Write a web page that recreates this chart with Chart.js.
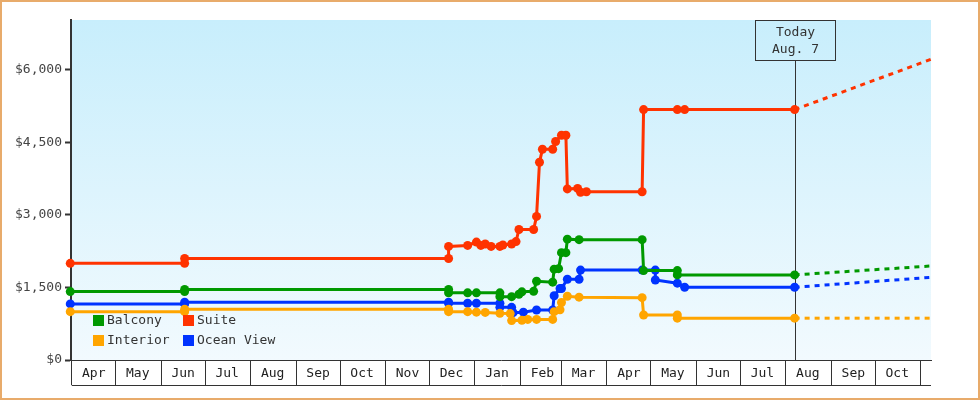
<!DOCTYPE html>
<html>
<head>
<meta charset="utf-8">
<script src="https://cdn.jsdelivr.net/npm/chart.js@4.4.1/dist/chart.umd.min.js"></script>
<style>
  html, body { margin: 0; padding: 0; background: #fff; }
  #wrap { width: 980px; height: 400px; box-sizing: border-box; border: 2px solid #e8ab6b; }
  canvas { display: block; }
</style>
</head>
<body>
<div id="wrap"><canvas id="chart" width="976" height="396"></canvas></div>
<script>
const FONT = '"DejaVu Sans Mono", monospace';

// x axis: days since START, one box per month
const START = '2017-04-01';
const TODAY = '2018-08-07';
const END = '2018-11-08';
const MONTH_STARTS = ['2017-04-01', '2017-05-01', '2017-06-01', '2017-07-01', '2017-08-01', '2017-09-01',
  '2017-10-01', '2017-11-01', '2017-12-01', '2018-01-01', '2018-02-01', '2018-03-01', '2018-04-01',
  '2018-05-01', '2018-06-01', '2018-07-01', '2018-08-01', '2018-09-01', '2018-10-01', '2018-11-01'];
const MONTH_LABELS = ['Apr', 'May', 'Jun', 'Jul', 'Aug', 'Sep', 'Oct', 'Nov', 'Dec', 'Jan', 'Feb', 'Mar',
  'Apr', 'May', 'Jun', 'Jul', 'Aug', 'Sep', 'Oct', ''];
const Y_TICKS = [0, 1500, 3000, 4500, 6000];

const SERIES_NAMES = ['Balcony', 'Suite', 'Interior', 'Ocean View'];
const SERIES_COLORS = ['#009900', '#ff3300', '#ffa500', '#0033ff'];

const balconyDates = ['2017-03-31', '2017-06-17', '2017-06-17', '2017-12-14', '2017-12-14', '2017-12-27',
  '2018-01-02', '2018-01-18', '2018-01-18', '2018-01-26', '2018-01-31', '2018-02-02', '2018-02-10',
  '2018-02-12', '2018-02-23', '2018-02-24', '2018-02-27', '2018-03-01', '2018-03-04', '2018-03-05',
  '2018-03-13', '2018-04-25', '2018-04-26', '2018-05-19', '2018-05-19', '2018-08-07'];
const balconyPrices = [1415, 1415, 1460, 1460, 1390, 1390,
  1390, 1390, 1310, 1310, 1360, 1410, 1420,
  1630, 1610, 1880, 1890, 2220, 2220, 2500,
  2490, 2490, 1850, 1850, 1760, 1760];

const suiteDates = ['2017-03-31', '2017-06-17', '2017-06-17', '2017-12-14', '2017-12-14', '2017-12-27',
  '2018-01-02', '2018-01-05', '2018-01-08', '2018-01-12', '2018-01-18', '2018-01-20', '2018-01-26',
  '2018-01-29', '2018-01-31', '2018-02-10', '2018-02-12', '2018-02-14', '2018-02-16', '2018-02-23',
  '2018-02-25', '2018-03-01', '2018-03-04', '2018-03-05', '2018-03-12', '2018-03-14', '2018-03-18',
  '2018-04-25', '2018-04-26', '2018-05-19', '2018-05-24', '2018-08-07'];
const suitePrices = [2000, 2000, 2100, 2100, 2350, 2370,
  2440, 2370, 2400, 2350, 2350, 2380, 2400,
  2450, 2700, 2700, 2970, 4090, 4360, 4360,
  4520, 4650, 4650, 3540, 3550, 3470, 3480,
  3480, 5180, 5180, 5180, 5180];

const interiorDates = ['2017-03-31', '2017-06-17', '2017-06-17', '2017-12-14', '2017-12-14', '2017-12-27',
  '2018-01-02', '2018-01-08', '2018-01-18', '2018-01-25', '2018-01-26', '2018-02-02', '2018-02-06',
  '2018-02-12', '2018-02-23', '2018-02-24', '2018-02-28', '2018-03-01', '2018-03-05', '2018-03-13',
  '2018-04-25', '2018-04-26', '2018-05-19', '2018-05-19', '2018-08-07'];
const interiorPrices = [1000, 1000, 1050, 1050, 1000, 1000,
  990, 985, 965, 960, 815, 820, 840,
  840, 840, 1000, 1040, 1190, 1320, 1300,
  1290, 930, 930, 865, 865];

const oceanDates = ['2017-03-31', '2017-06-17', '2017-06-17', '2017-12-14', '2017-12-14', '2017-12-27',
  '2018-01-02', '2018-01-18', '2018-01-18', '2018-01-26', '2018-01-27', '2018-02-03', '2018-02-12',
  '2018-02-23', '2018-02-24', '2018-02-28', '2018-03-01', '2018-03-05', '2018-03-13', '2018-03-14',
  '2018-04-25', '2018-05-04', '2018-05-04', '2018-05-19', '2018-05-24', '2018-08-07'];
const oceanPrices = [1160, 1160, 1195, 1195, 1175, 1175,
  1175, 1175, 1090, 1090, 980, 990, 1035,
  1035, 1330, 1480, 1480, 1670, 1670, 1860,
  1860, 1860, 1655, 1590, 1505, 1505];

// projection from today to the end of the axis
const balconyForecast = [1760, 1945];
const suiteForecast = [5180, 6220];
const interiorForecast = [865, 865];
const oceanForecast = [1505, 1710];

function day(s) {
  const [y, m, d] = s.split('-').map(Number);
  const [y0, m0, d0] = START.split('-').map(Number);
  return (Date.UTC(y, m - 1, d) - Date.UTC(y0, m0 - 1, d0)) / 864e5;
}
function pts(dates, vals) {
  return dates.map((d, i) => ({ x: day(d), y: vals[i] }));
}

function solid(i, dates, vals) {
  const c = SERIES_COLORS[i];
  return {
    label: SERIES_NAMES[i], data: pts(dates, vals),
    borderColor: c, backgroundColor: c, borderWidth: 3,
    pointRadius: 4.5, pointBorderWidth: 0, pointBackgroundColor: c,
    tension: 0, clip: false
  };
}
function dashed(i, vals) {
  const c = SERIES_COLORS[i];
  return {
    label: SERIES_NAMES[i] + ' forecast',
    data: pts([TODAY, END], vals),
    borderColor: c, borderWidth: 3, borderDash: [5, 5],
    pointRadius: 0, tension: 0, clip: false
  };
}

// light blue gradient behind the plot
const plotBg = {
  id: 'plotBg',
  beforeDraw(chart) {
    const { ctx, chartArea: a } = chart;
    const g = ctx.createLinearGradient(0, a.top, 0, a.bottom);
    g.addColorStop(0, '#c8eefc');
    g.addColorStop(1, '#f2fafe');
    ctx.save();
    ctx.fillStyle = g;
    ctx.fillRect(a.left, a.top, a.right - a.left, a.bottom - a.top);
    ctx.restore();
  }
};

// closes the month boxes at the bottom
const monthBoxes = {
  id: 'monthBoxes',
  afterDraw(chart) {
    const { ctx, chartArea: a } = chart;
    const y = Math.round(a.bottom + 25) + 0.5;
    ctx.save();
    ctx.strokeStyle = '#333';
    ctx.lineWidth = 1;
    ctx.beginPath();
    ctx.moveTo(chart.scales.x.getPixelForValue(0), y);
    ctx.lineTo(a.right, y);
    ctx.stroke();
    ctx.restore();
  }
};

// "Today" marker
const todayLine = {
  id: 'todayLine',
  beforeDatasetsDraw(chart) {
    const { ctx, chartArea: a } = chart;
    const x = Math.round(chart.scales.x.getPixelForValue(day(TODAY))) + 0.5;
    const w = 80, h = 40, top = a.top + 0.5;
    ctx.save();
    ctx.strokeStyle = '#333';
    ctx.lineWidth = 1;
    ctx.strokeRect(x - w / 2, top, w, h);
    ctx.beginPath();
    ctx.moveTo(x, top + h);
    ctx.lineTo(x, a.bottom);
    ctx.stroke();
    ctx.fillStyle = '#333';
    ctx.font = '13px ' + FONT;
    ctx.textAlign = 'center';
    ctx.textBaseline = 'middle';
    ctx.fillText('Today', x, a.top + 12.5);
    ctx.fillText('Aug. 7', x, a.top + 30);
    ctx.restore();
  }
};

// legend in the lower left of the plot, two columns
const legendBox = {
  id: 'legendBox',
  afterDatasetsDraw(chart) {
    const { ctx, chartArea: a } = chart;
    ctx.save();
    ctx.font = '13px ' + FONT;
    ctx.textAlign = 'left';
    ctx.textBaseline = 'middle';
    SERIES_NAMES.forEach((name, i) => {
      const x = a.left + 22 + (i % 2) * 90;
      const y = a.bottom - 45 + Math.floor(i / 2) * 20;
      ctx.fillStyle = SERIES_COLORS[i];
      ctx.fillRect(x, y, 11, 11);
      ctx.fillStyle = '#333';
      ctx.fillText(name, x + 14, y + 6);
    });
    ctx.restore();
  }
};

new Chart(document.getElementById('chart'), {
  type: 'line',
  data: {
    datasets: [
      solid(0, balconyDates, balconyPrices),
      solid(1, suiteDates, suitePrices),
      solid(2, interiorDates, interiorPrices),
      solid(3, oceanDates, oceanPrices),
      dashed(0, balconyForecast),
      dashed(1, suiteForecast),
      dashed(2, interiorForecast),
      dashed(3, oceanForecast)
    ]
  },
  options: {
    responsive: false,
    devicePixelRatio: 1,
    animation: false,
    events: [],
    layout: { padding: { left: 0, right: 47, top: 18, bottom: 0 } },
    plugins: { legend: { display: false }, tooltip: { enabled: false } },
    scales: {
      x: {
        type: 'linear',
        min: -0.5,
        max: day(END),
        afterBuildTicks: s => { s.ticks = MONTH_STARTS.map(d => ({ value: day(d) })); },
        afterFit: s => { s.height = 38; },
        border: { display: true, color: '#333', width: 1 },
        grid: { drawOnChartArea: false, drawTicks: true, tickLength: 25, color: '#333', lineWidth: 1 },
        ticks: {
          autoSkip: false, maxRotation: 0, minRotation: 0,
          padding: -19, labelOffset: 22,
          color: '#222', font: { family: FONT, size: 13 },
          callback: (v, i) => MONTH_LABELS[i]
        }
      },
      y: {
        min: 0,
        max: 7034,
        afterBuildTicks: s => { s.ticks = Y_TICKS.map(v => ({ value: v })); },
        afterFit: s => { s.width = 69; },
        border: { display: true, color: '#333', width: 2 },
        grid: { drawOnChartArea: false, drawTicks: true, tickLength: 6, tickWidth: 2, tickColor: '#333' },
        ticks: {
          padding: 3, color: '#444', font: { family: FONT, size: 13 },
          callback: v => '$' + v.toLocaleString('en-US')
        }
      }
    }
  },
  plugins: [plotBg, monthBoxes, todayLine, legendBox]
});
</script>
</body>
</html>
